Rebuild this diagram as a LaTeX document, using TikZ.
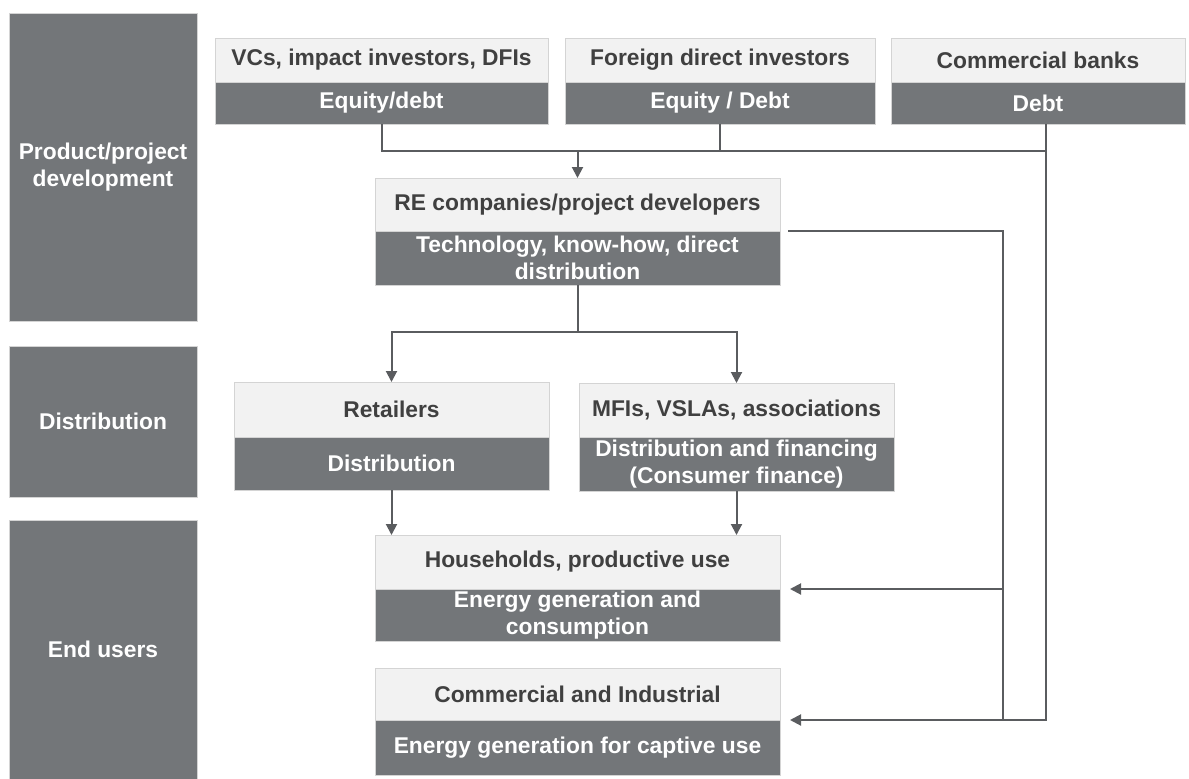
\documentclass[tikz,border=0pt]{standalone}
\usepackage{fontspec}
\setmainfont{Liberation Sans}
\usetikzlibrary{arrows.meta}
\definecolor{boxdark}{RGB}{115,118,121}
\definecolor{boxlight}{RGB}{242,242,242}
\definecolor{edgegray}{RGB}{212,212,212}
\definecolor{inkgray}{RGB}{64,64,64}
\definecolor{linegray}{RGB}{90,92,95}

\begin{document}
\begin{tikzpicture}[x=1pt,y=-1pt,
  every node/.style={inner sep=0pt, outer sep=0pt,
    font=\fontsize{22.8}{26.5}\selectfont\bfseries, align=center},
  toppart/.style={fill=boxlight, draw=edgegray, line width=0.8pt, text=inkgray, anchor=north west},
  lowpart/.style={fill=boxdark, draw=edgegray, line width=0.8pt, text=white, anchor=north},
  stage/.style={fill=boxdark, draw=edgegray, line width=0.8pt, text=white, minimum width=188pt},
  flow/.style={draw=linegray, line width=2pt},
  tip/.style={-{Triangle[length=11pt,width=11pt]}}
]
\useasboundingbox (0,0) rectangle (1189,779);

% stage column
\node[stage, minimum height=308pt] (stgP) at (103,167) {Product/project\\development};
\node[stage, minimum height=151pt] (stgD) at (103,421.5) {Distribution};
\node[stage, minimum height=259pt] (stgE) at (103,649.5) {End users};

% investors
\node[toppart, minimum width=333pt, minimum height=44pt] (vcT) at (215,38) {VCs, impact investors, DFIs};
\node[lowpart, minimum width=333pt, minimum height=42pt] (vcB) at (vcT.south) {Equity/debt};
\node[toppart, minimum width=310pt, minimum height=44pt] (fdT) at (565,38) {Foreign direct investors};
\node[lowpart, minimum width=310pt, minimum height=42pt] (fdB) at (fdT.south) {Equity / Debt};
\node[toppart, minimum width=294pt, minimum height=44pt] (cbT) at (891,38) {Commercial banks};
\node[lowpart, minimum width=294pt, minimum height=42pt] (cbB) at (cbT.south) {Debt};

% developers
\node[toppart, minimum width=405pt, minimum height=53pt] (reT) at (375,178) {RE companies/project developers};
\node[lowpart, minimum width=405pt, minimum height=54pt] (reB) at (reT.south) {Technology, know-how, direct\\distribution};

% distribution
\node[toppart, minimum width=315pt, minimum height=55pt] (rtT) at (234,382) {Retailers};
\node[lowpart, minimum width=315pt, minimum height=53pt] (rtB) at (rtT.south) {Distribution};
\node[toppart, minimum width=315pt, minimum height=54pt] (mfT) at (579,383) {MFIs, VSLAs, associations};
\node[lowpart, minimum width=315pt, minimum height=54pt] (mfB) at (mfT.south) {Distribution and financing\\(Consumer finance)};

% end users
\node[toppart, minimum width=405pt, minimum height=54pt] (hhT) at (375,535) {Households, productive use};
\node[lowpart, minimum width=405pt, minimum height=52pt] (hhB) at (hhT.south) {Energy generation and\\consumption};
\node[toppart, minimum width=405pt, minimum height=52pt] (ciT) at (375,668) {Commercial and Industrial};
\node[lowpart, minimum width=405pt, minimum height=55pt] (ciB) at (ciT.south) {Energy generation for captive use};

% connector anchors
\coordinate (cbOut) at ([xshift=8pt]cbB.south);
\coordinate (rail) at ([xshift=223pt]reB.north east);

% funding bus into developers
\draw[flow] (vcB.south) -- ++(0,27) -| (cbOut);
\draw[flow] (fdB.south) -- ++(0,27);
\draw[flow,tip] ([yshift=27pt]reT.north) -- (reT.north);

% developers to distribution channels
\draw[flow] (reB.south) -- ++(0,47) coordinate (split);
\draw[flow,tip] (split) -| (rtT.north);
\draw[flow,tip] (split) -| (mfT.north);

% channels to households
\draw[flow,tip] (rtB.south) -- (rtB.south |- hhT.north);
\draw[flow,tip] (mfB.south) -- (mfB.south |- hhT.north);

% direct supply rail
\draw[flow] ([xshift=8pt]reB.north east) -- (rail) -- (rail |- ciB.north);
\draw[flow,tip] (rail |- hhB.north) -- ([xshift=10pt]hhB.north east);

% bank debt to commercial and industrial users
\draw[flow,tip] (cbOut) -- (cbOut |- ciB.north) -- ([xshift=10pt]ciB.north east);
\end{tikzpicture}
\end{document}
